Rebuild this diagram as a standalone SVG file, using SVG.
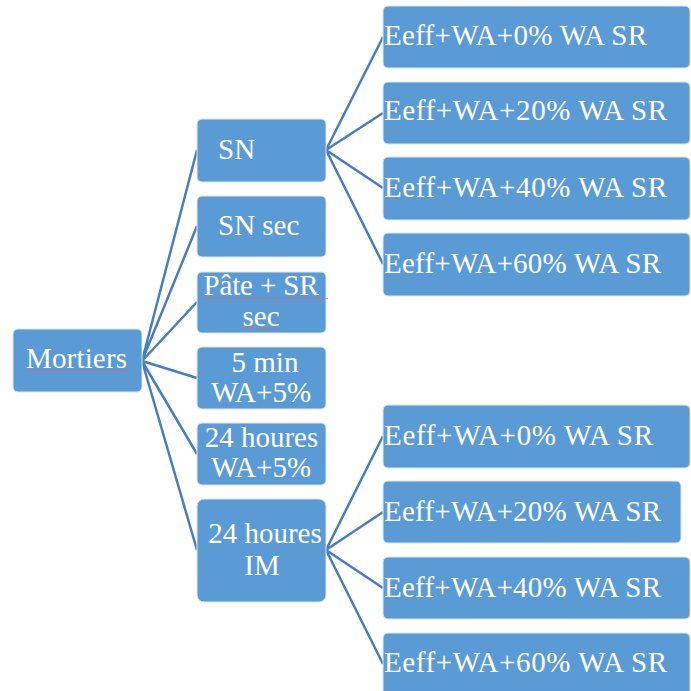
<svg xmlns="http://www.w3.org/2000/svg" width="691" height="691" viewBox="0 0 691 691">
<style>
.box{fill:#5b9bd5;stroke:#dbe7f4;stroke-width:1}
.t{font-family:"Liberation Serif","Times New Roman",serif;font-size:29px;fill:#ffffff}
.c{text-anchor:middle}
.con{stroke:#4a7ebb;stroke-width:2.5;fill:none}
.sp{stroke:#e0607a;stroke-width:0.8;fill:none;opacity:0.8}
</style>
<rect width="691" height="691" fill="#ffffff"/>
<g id="connectors">
<path class="con" d="M142,361 L197,150 M142,361 L197,226 M142,361 L197,302 M142,361 L197,378 M142,361 L197,454 M142,361 L197,550"/>
<path class="con" d="M326,150 L383,37 M326,150 L383,113 M326,150 L383,188 M326,150 L383,264"/>
<path class="con" d="M326,550 L383,436 M326,550 L383,512 M326,550 L383,588 M326,550 L383,664"/>
</g>
<g id="n-mortiers"><rect class="box" x="13" y="329" width="129" height="63" rx="5"/><text class="t" x="26" y="368" textLength="101">Mortiers</text><path class="sp" d="M26,370.5 L127,370.5"/></g>
<g id="n-sn"><rect class="box" x="197" y="119" width="129" height="63" rx="5"/><text class="t" x="218" y="159">SN</text></g>
<g id="n-snsec"><rect class="box" x="197" y="196" width="129" height="61" rx="5"/><text class="t" x="218" y="235">SN sec</text></g>
<g id="n-pate"><rect class="box" x="197" y="272" width="129" height="61" rx="5"/><text class="t c" x="261" y="295" textLength="115">Pâte + SR</text><text class="t c" x="261" y="326">sec</text><path class="sp" d="M203,298.5 L328,298.5 M243,328.5 L280,328.5"/></g>
<g id="n-5min"><rect class="box" x="197" y="347" width="129" height="62" rx="5"/><text class="t c" x="265" y="372">5 min</text><text class="t c" x="261" y="402">WA+5%</text></g>
<g id="n-24wa"><rect class="box" x="197" y="423" width="129" height="62" rx="5"/><text class="t c" x="261.5" y="447">24 houres</text><text class="t c" x="261" y="477">WA+5%</text></g>
<g id="n-24im"><rect class="box" x="197" y="499" width="129" height="103" rx="7"/><text class="t c" x="265" y="543">24 houres</text><text class="t c" x="262" y="575">IM</text></g>
<g id="n-sn0"><rect class="box" x="383" y="6" width="307" height="62" rx="5"/><text class="t" x="384" y="45" textLength="263">Eeff+WA+0% WA SR</text></g>
<g id="n-sn20"><rect class="box" x="383" y="82" width="307" height="62" rx="5"/><text class="t" x="384" y="120" textLength="283">Eeff+WA+20% WA SR</text></g>
<g id="n-sn40"><rect class="box" x="383" y="157" width="307" height="63" rx="5"/><text class="t" x="384" y="197" textLength="283">Eeff+WA+40% WA SR</text></g>
<g id="n-sn60"><rect class="box" x="383" y="233" width="307" height="63" rx="5"/><text class="t" x="384" y="273" textLength="277">Eeff+WA+60% WA SR</text></g>
<g id="n-im0"><rect class="box" x="383" y="405" width="307" height="63" rx="5"/><text class="t" x="384" y="445" textLength="269">Eeff+WA+0% WA SR</text></g>
<g id="n-im20"><rect class="box" x="383" y="481" width="298" height="62" rx="5"/><text class="t" x="384" y="521" textLength="277">Eeff+WA+20% WA SR</text></g>
<g id="n-im40"><rect class="box" x="383" y="557" width="307" height="62" rx="5"/><text class="t" x="384" y="597" textLength="277">Eeff+WA+40% WA SR</text></g>
<g id="n-im60"><rect class="box" x="383" y="633" width="307" height="64" rx="5"/><text class="t" x="384" y="672" textLength="283">Eeff+WA+60% WA SR</text></g>
</svg>
